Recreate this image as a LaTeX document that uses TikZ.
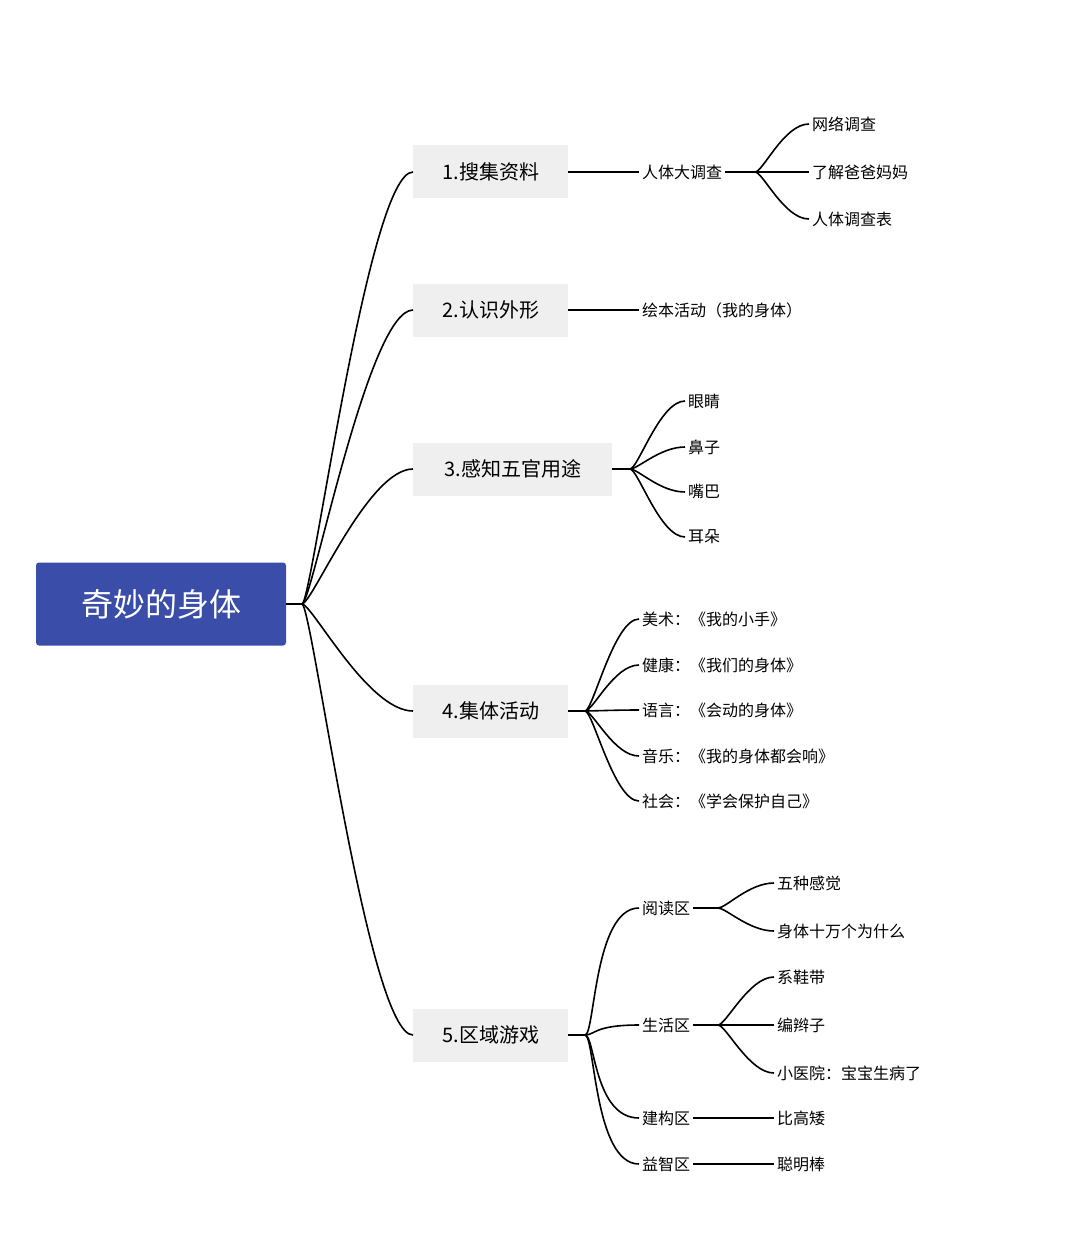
\documentclass[tikz,border=0pt]{standalone}
\usepackage{fontspec}
\setmainfont{Noto Sans CJK SC}
\usetikzlibrary{calc}
\tikzset{
  rootbox/.style={fill={rgb,255:red,58;green,77;blue,168}, text=white, rounded corners=3pt,
    minimum width=250pt, minimum height=83pt, font=\fontsize{32}{32}\selectfont},
  topicbox/.style={fill={rgb,255:red,239;green,239;blue,239}, minimum height=53pt,
    anchor=west, font=\fontsize{20}{20}\selectfont, inner xsep=22pt},
  leaf/.style={anchor=west, inner sep=3pt, font=\fontsize{16}{16}\selectfont},
  link/.style={line width=1.6pt, black},
  branch/.style={link, to path={.. controls ($(\tikztostart)+(10pt,0)$) and ($(\tikztotarget)+(-45pt,0)$) .. (\tikztotarget)}},
  twig/.style={link, to path={.. controls ($(\tikztostart)+(8pt,0)$) and ($(\tikztotarget)+(-25pt,0)$) .. (\tikztotarget)}}
}
\begin{document}
\begin{tikzpicture}[x=1pt,y=-1pt]
  \useasboundingbox[fill=white] (0,0) rectangle (1080,1257);

  % root and main topics
  \node[rootbox] (root) at (161,604) {奇妙的身体};
  \coordinate (hub) at (302,604);
  \node[topicbox, minimum width=155pt] (t1) at (413,172) {1.搜集资料};
  \node[topicbox, minimum width=155pt] (t2) at (413,310) {2.认识外形};
  \node[topicbox, minimum width=199pt] (t3) at (413,469) {3.感知五官用途};
  \node[topicbox, minimum width=155pt] (t4) at (413,711) {4.集体活动};
  \node[topicbox, minimum width=155pt] (t5) at (413,1035) {5.区域游戏};
  \draw[link] (root.east) -- (hub);
  \foreach \t in {t1,t2,t3,t4,t5}
    \draw[branch] (hub) to (\t.west);

  % 1
  \node[leaf] (s1) at (639,172) {人体大调查};
  \coordinate (f1) at (755,172);
  \node[leaf] (s11) at (809,124) {网络调查};
  \node[leaf] (s12) at (809,172) {了解爸爸妈妈};
  \node[leaf] (s13) at (809,219) {人体调查表};
  \draw[link] (t1.east) -- (s1.west);
  \draw[link] (s1.east) -- (f1);
  \foreach \s in {s11,s12,s13}
    \draw[twig] (f1) to (\s.west);

  % 2
  \node[leaf] (s2) at (639,310) {绘本活动（我的身体）};
  \draw[link] (t2.east) -- (s2.west);

  % 3
  \coordinate (f3) at (630,469);
  \node[leaf] (s31) at (685,401) {眼睛};
  \node[leaf] (s32) at (685,447) {鼻子};
  \node[leaf] (s33) at (685,492) {嘴巴};
  \node[leaf] (s34) at (685,537) {耳朵};
  \draw[link] (t3.east) -- (f3);
  \foreach \s in {s31,s32,s33,s34}
    \draw[twig] (f3) to (\s.west);

  % 4
  \coordinate (f4) at (585,711);
  \node[leaf] (s41) at (639,619) {美术：《我的小手》};
  \node[leaf] (s42) at (639,665) {健康：《我们的身体》};
  \node[leaf] (s43) at (639,710) {语言：《会动的身体》};
  \node[leaf] (s44) at (639,756) {音乐：《我的身体都会响》};
  \node[leaf] (s45) at (639,801) {社会：《学会保护自己》};
  \draw[link] (t4.east) -- (f4);
  \foreach \s in {s41,s42,s43,s44,s45}
    \draw[twig] (f4) to (\s.west);

  % 5
  \coordinate (f5) at (585,1035);
  \node[leaf] (s51) at (639,908) {阅读区};
  \node[leaf] (s52) at (639,1025) {生活区};
  \node[leaf] (s53) at (639,1118) {建构区};
  \node[leaf] (s54) at (639,1164) {益智区};
  \draw[link] (t5.east) -- (f5);
  \foreach \s in {s51,s52,s53,s54}
    \draw[branch] (f5) to (\s.west);

  \coordinate (f51) at (718,908);
  \node[leaf] (s511) at (774,883) {五种感觉};
  \node[leaf] (s512) at (774,931) {身体十万个为什么};
  \draw[link] (s51.east) -- (f51);
  \foreach \s in {s511,s512}
    \draw[twig] (f51) to (\s.west);

  \coordinate (f52) at (718,1025);
  \node[leaf] (s521) at (774,977) {系鞋带};
  \node[leaf] (s522) at (774,1025) {编辫子};
  \node[leaf] (s523) at (774,1073) {小医院：宝宝生病了};
  \draw[link] (s52.east) -- (f52);
  \foreach \s in {s521,s522,s523}
    \draw[twig] (f52) to (\s.west);

  \node[leaf] (s531) at (774,1118) {比高矮};
  \node[leaf] (s541) at (774,1164) {聪明棒};
  \draw[link] (s53.east) -- (s531.west);
  \draw[link] (s54.east) -- (s541.west);
\end{tikzpicture}
\end{document}
